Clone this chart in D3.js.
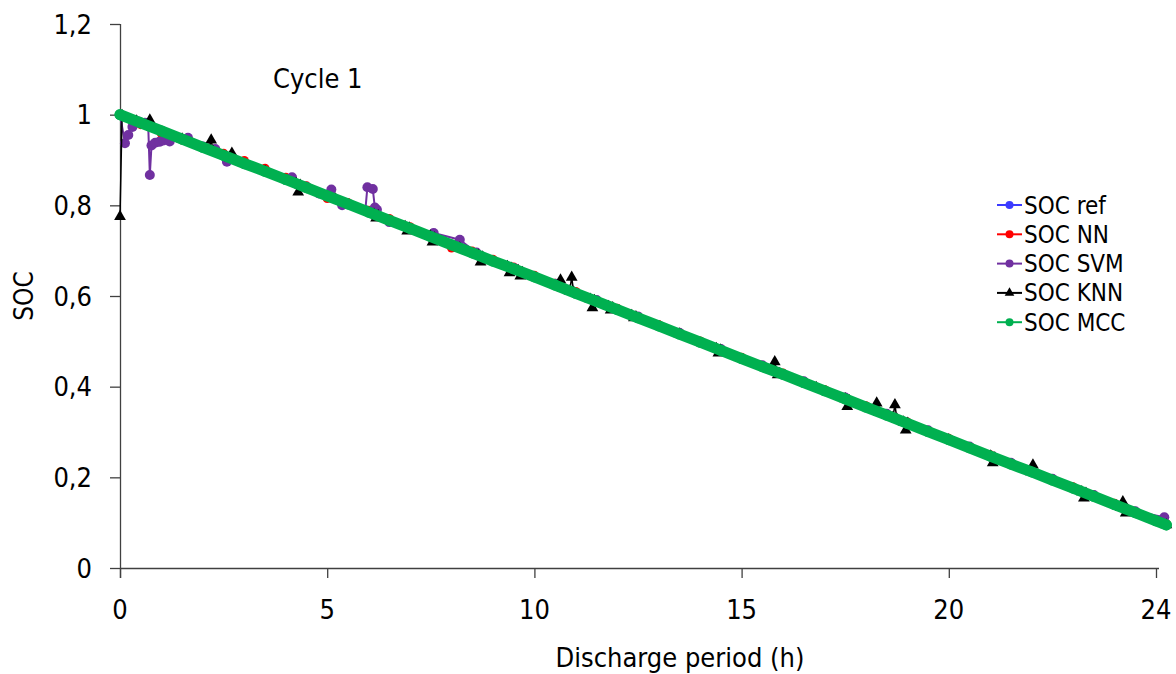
<!DOCTYPE html>
<html>
<head>
<meta charset="utf-8">
<script src="https://cdn.jsdelivr.net/npm/d3@7/dist/d3.min.js"></script>
<style>
  body { margin: 0; background: #fff; overflow: hidden; }
  svg { display: block; }
  text { font-family: Tahoma, "DejaVu Sans Condensed", "DejaVu Sans", sans-serif; fill: #000; }
</style>
</head>
<body>
<div id="chart"></div>
<script>
/* global d3 */

// discharge hours shared by the ref, NN and MCC series
var hours = [ 0, 0.5, 1, 1.5, 2, 2.5, 3, 3.5, 4, 4.5, 5, 5.5, 6, 6.5, 7, 7.5, 8, 8.5, 9, 9.5,
  10, 10.5, 11, 11.5, 12, 12.5, 13, 13.5, 14, 14.5, 15, 15.5, 16, 16.5, 17, 17.5, 18, 18.5, 19, 19.5,
  20, 20.5, 21, 21.5, 22, 22.5, 23, 23.5, 24, 24.5, 25, 25.25 ];

var refSoc = [ 1.000, 0.982, 0.964, 0.946, 0.928, 0.910, 0.892, 0.875, 0.857, 0.839, 0.821, 0.803, 0.785, 0.767, 0.749, 0.731, 0.713, 0.695, 0.677, 0.660,
  0.642, 0.624, 0.606, 0.588, 0.570, 0.552, 0.534, 0.516, 0.498, 0.480, 0.462, 0.444, 0.427, 0.409, 0.391, 0.373, 0.355, 0.337, 0.319, 0.301,
  0.283, 0.265, 0.247, 0.229, 0.212, 0.194, 0.176, 0.158, 0.140, 0.122, 0.104, 0.095 ];

var nnSoc = [ 1.000, 0.978, 0.958, 0.944, 0.930, 0.915, 0.899, 0.882, 0.862, 0.843, 0.815, 0.806, 0.789, 0.771, 0.753, 0.735, 0.706, 0.699, 0.681, 0.664,
  0.646, 0.628, 0.610, 0.591, 0.573, 0.555, 0.537, 0.519, 0.501, 0.483, 0.465, 0.447, 0.430, 0.412, 0.394, 0.376, 0.358, 0.340, 0.322, 0.304,
  0.286, 0.268, 0.250, 0.232, 0.215, 0.197, 0.179, 0.161, 0.143, 0.125, 0.107, 0.098 ];

var mccSoc = [ 1.000, 0.982, 0.964, 0.946, 0.928, 0.910, 0.892, 0.875, 0.857, 0.839, 0.821, 0.803, 0.785, 0.767, 0.749, 0.731, 0.713, 0.695, 0.677, 0.660,
  0.642, 0.624, 0.606, 0.588, 0.570, 0.552, 0.534, 0.516, 0.498, 0.480, 0.462, 0.444, 0.427, 0.409, 0.391, 0.373, 0.355, 0.337, 0.319, 0.301,
  0.283, 0.265, 0.247, 0.229, 0.212, 0.194, 0.176, 0.158, 0.140, 0.122, 0.104, 0.095 ];

// SVM and KNN have their own sample hours (spikes in between)
var svmHours = [ 0, 0.12, 0.2, 0.3, 0.45, 0.6, 0.68, 0.72, 0.76, 0.85, 0.95, 1.05, 1.2, 1.64, 2.0, 2.3, 2.58, 3.0, 3.5, 4.15,
  4.5, 4.8, 5.1, 5.36, 5.92, 5.97, 6.1, 6.15, 6.2, 6.5, 7.0, 7.57, 8.2, 8.6, 9.5, 10.5, 11.5, 12.5, 13.5, 14.5,
  15.5, 16.5, 17.5, 18.5, 19.5, 20.5, 21.5, 22.5, 23.5, 24.5, 25.2 ];
var svmSoc = [ 1.000, 0.937, 0.955, 0.973, 0.985, 0.982, 0.978, 0.867, 0.932, 0.938, 0.940, 0.943, 0.941, 0.949, 0.930, 0.924, 0.896, 0.893, 0.876, 0.862,
  0.841, 0.826, 0.835, 0.800, 0.789, 0.840, 0.836, 0.795, 0.790, 0.763, 0.750, 0.739, 0.724, 0.696, 0.662, 0.627, 0.591, 0.555, 0.519, 0.483,
  0.447, 0.412, 0.376, 0.340, 0.304, 0.268, 0.232, 0.197, 0.161, 0.125, 0.112 ];

var knnHours = [ 0, 0.05, 0.4, 0.67, 0.72, 0.77, 1.5, 2.15, 2.2, 2.25, 2.65, 2.7, 2.75, 3.5, 4.25, 4.3, 4.35, 5.2, 6.13, 6.18,
  6.23, 6.88, 6.93, 6.98, 7.49, 7.54, 7.59, 8.2, 8.65, 8.7, 8.75, 9.35, 9.4, 9.45, 9.61, 9.66, 9.71, 10.58, 10.63, 10.68,
  10.85, 10.9, 10.95, 11.35, 11.4, 11.45, 11.79, 11.84, 11.89, 12.35, 12.4, 12.45, 13.5, 14.39, 14.44, 14.49, 15.75, 15.8, 15.83, 15.87,
  15.92, 16.8, 17.5, 17.55, 17.6, 18.21, 18.26, 18.31, 18.65, 18.7, 18.75, 18.91, 18.96, 19.01, 20.0, 21.01, 21.06, 21.11, 21.98, 22.03,
  22.08, 23.21, 23.26, 23.31, 24.15, 24.2, 24.23, 24.27, 24.32, 25.25 ];
var knnSoc = [ 0.775, 0.998, 0.986, 0.976, 0.988, 0.972, 0.946, 0.923, 0.944, 0.919, 0.905, 0.915, 0.901, 0.875, 0.848, 0.829, 0.844, 0.814, 0.780, 0.772,
  0.777, 0.753, 0.743, 0.750, 0.732, 0.719, 0.728, 0.706, 0.690, 0.675, 0.686, 0.665, 0.651, 0.661, 0.656, 0.644, 0.652, 0.621, 0.635, 0.617,
  0.611, 0.641, 0.608, 0.593, 0.574, 0.590, 0.577, 0.569, 0.574, 0.557, 0.552, 0.554, 0.516, 0.484, 0.474, 0.481, 0.436, 0.455, 0.433, 0.426,
  0.429, 0.398, 0.373, 0.356, 0.369, 0.347, 0.364, 0.344, 0.332, 0.360, 0.328, 0.322, 0.304, 0.319, 0.283, 0.247, 0.232, 0.243, 0.212, 0.227,
  0.209, 0.168, 0.154, 0.165, 0.134, 0.146, 0.132, 0.121, 0.128, 0.095 ];

var seriesNames = [ "SOC ref", "SOC NN", "SOC SVM", "SOC KNN", "SOC MCC" ];
var seriesColors = [ "#3b3bff", "#ff0000", "#7030a0", "#000000", "#00b050" ];

var xTickValues = [ 0, 5, 10, 15, 20, 25 ];
var xTickLabels = [ "0", "5", "10", "15", "20", "24" ];
var yTickValues = [ 0, 0.2, 0.4, 0.6, 0.8, 1, 1.2 ];

var width = 1176,
  height = 674,
  margin = { top: 24, right: 20, bottom: 106, left: 120 };

var innerWidth = 1156 - margin.left,
  innerHeight = height - margin.top - margin.bottom;

var comma = d3.formatLocale( { decimal: ",", thousands: ".", grouping: [ 3 ], currency: [ "", "" ] } ).format( ".1~f" );

var svg = d3.select( "#chart" ).append( "svg" )
  .attr( "width", width )
  .attr( "height", height );

var g = svg.append( "g" )
  .attr( "transform", "translate(" + margin.left + "," + margin.top + ")" );

var x = d3.scaleLinear().domain( [ 0, 25 ] ).range( [ 0, innerWidth ] );
var y = d3.scaleLinear().domain( [ 0, 1.2 ] ).range( [ innerHeight, 0 ] );

// axes (lines and ticks); labels are placed below in page coordinates
var xAxis = g.append( "g" )
  .attr( "transform", "translate(0," + innerHeight + ")" )
  .call( d3.axisBottom( x ).tickValues( xTickValues ).tickFormat( "" )
    .tickSize( 10 ).tickSizeOuter( 0 ) );

var yAxis = g.append( "g" )
  .call( d3.axisLeft( y ).tickValues( yTickValues ).tickFormat( "" )
    .tickSize( 10 ).tickSizeOuter( 0 ) );

[ xAxis, yAxis ].forEach( function( ax ) {
  ax.select( ".domain" ).attr( "stroke", "#404040" ).attr( "stroke-width", 1.3 );
  ax.selectAll( ".tick line" ).attr( "stroke", "#404040" ).attr( "stroke-width", 1.3 );
  ax.selectAll( ".tick text" ).remove();
} );
xAxis.select( ".domain" ).attr( "d", "M0,0.5H" + ( innerWidth + 3 ) );
yAxis.select( ".domain" ).attr( "d", "M0.5," + ( innerHeight + 10 ) + "V0" );

var labels = svg.append( "g" ).attr( "class", "tick-labels" ).style( "font-size", "27px" );

labels.selectAll( "text.xl" ).data( xTickValues ).enter().append( "text" )
  .attr( "class", "xl" )
  .attr( "x", function( d ) { return margin.left + x( d ); } )
  .attr( "y", margin.top + innerHeight + 51 )
  .attr( "text-anchor", "middle" )
  .text( function( d, i ) { return xTickLabels[ i ]; } );

labels.selectAll( "text.yl" ).data( yTickValues ).enter().append( "text" )
  .attr( "class", "yl" )
  .attr( "x", margin.left - 28 )
  .attr( "y", function( d ) { return margin.top + y( d ); } )
  .attr( "dy", "0.36em" )
  .attr( "text-anchor", "end" )
  .text( comma );

// series
function pairs( xs, ys ) {
  return xs.map( function( h, i ) { return [ h, ys[ i ] ]; } );
}

var series = [
  { data: pairs( hours, refSoc ), lw: 2, r: 4, shape: "circle" },
  { data: pairs( hours, nnSoc ), lw: 2, r: 4.5, shape: "circle" },
  { data: pairs( svmHours, svmSoc ), lw: 2, r: 5, shape: "circle" },
  { data: pairs( knnHours, knnSoc ), lw: 1.5, r: 5.5, shape: "triangle" },
  { data: pairs( hours, mccSoc ), lw: 11, r: 5.5, shape: "circle" }
];

var line = d3.line()
  .x( function( d ) { return x( d[ 0 ] ); } )
  .y( function( d ) { return y( d[ 1 ] ); } );

var tri = d3.symbol().type( d3.symbolTriangle ).size( 60 );

series.forEach( function( s, i ) {
  var c = seriesColors[ i ];
  var sg = g.append( "g" ).attr( "class", "series" );
  sg.append( "path" )
    .datum( s.data )
    .attr( "fill", "none" )
    .attr( "stroke", c )
    .attr( "stroke-width", s.lw )
    .attr( "stroke-linejoin", "round" )
    .attr( "stroke-linecap", "round" )
    .attr( "d", line );
  if ( s.shape === "triangle" ) {
    sg.selectAll( "path.mark" ).data( s.data ).enter().append( "path" )
      .attr( "class", "mark" )
      .attr( "d", tri )
      .attr( "fill", c )
      .attr( "transform", function( d ) { return "translate(" + x( d[ 0 ] ) + "," + y( d[ 1 ] ) + ")"; } );
  } else {
    sg.selectAll( "circle" ).data( s.data ).enter().append( "circle" )
      .attr( "cx", function( d ) { return x( d[ 0 ] ); } )
      .attr( "cy", function( d ) { return y( d[ 1 ] ); } )
      .attr( "r", s.r )
      .attr( "fill", c );
  }
} );

// axis titles
svg.append( "text" )
  .attr( "x", 33 )
  .attr( "y", 296 )
  .attr( "transform", "rotate(-90,33,296)" )
  .attr( "text-anchor", "middle" )
  .style( "font-size", "26px" )
  .text( "SOC" );

svg.append( "text" )
  .attr( "x", 680 )
  .attr( "y", 667 )
  .attr( "text-anchor", "middle" )
  .style( "font-size", "27px" )
  .text( "Discharge period (h)" );

svg.append( "text" )
  .attr( "x", 273 )
  .attr( "y", 88 )
  .style( "font-size", "27px" )
  .text( "Cycle 1" );

// legend
var legend = svg.append( "g" ).attr( "transform", "translate(997,205)" );
seriesNames.forEach( function( name, i ) {
  var row = legend.append( "g" ).attr( "transform", "translate(0," + ( i * 29.3 ) + ")" );
  row.append( "line" )
    .attr( "x1", 0 ).attr( "x2", 25 )
    .attr( "stroke", seriesColors[ i ] ).attr( "stroke-width", 2 );
  if ( i === 3 ) {
    row.append( "path" )
      .attr( "d", d3.symbol().type( d3.symbolTriangle ).size( 40 ) )
      .attr( "transform", "translate(12.5,0)" )
      .attr( "fill", seriesColors[ i ] );
  } else {
    row.append( "circle" ).attr( "cx", 12.5 ).attr( "r", 4 ).attr( "fill", seriesColors[ i ] );
  }
  row.append( "text" )
    .attr( "x", 27 ).attr( "y", 8.5 )
    .style( "font-size", "24px" )
    .text( name );
} );
</script>
</body>
</html>
